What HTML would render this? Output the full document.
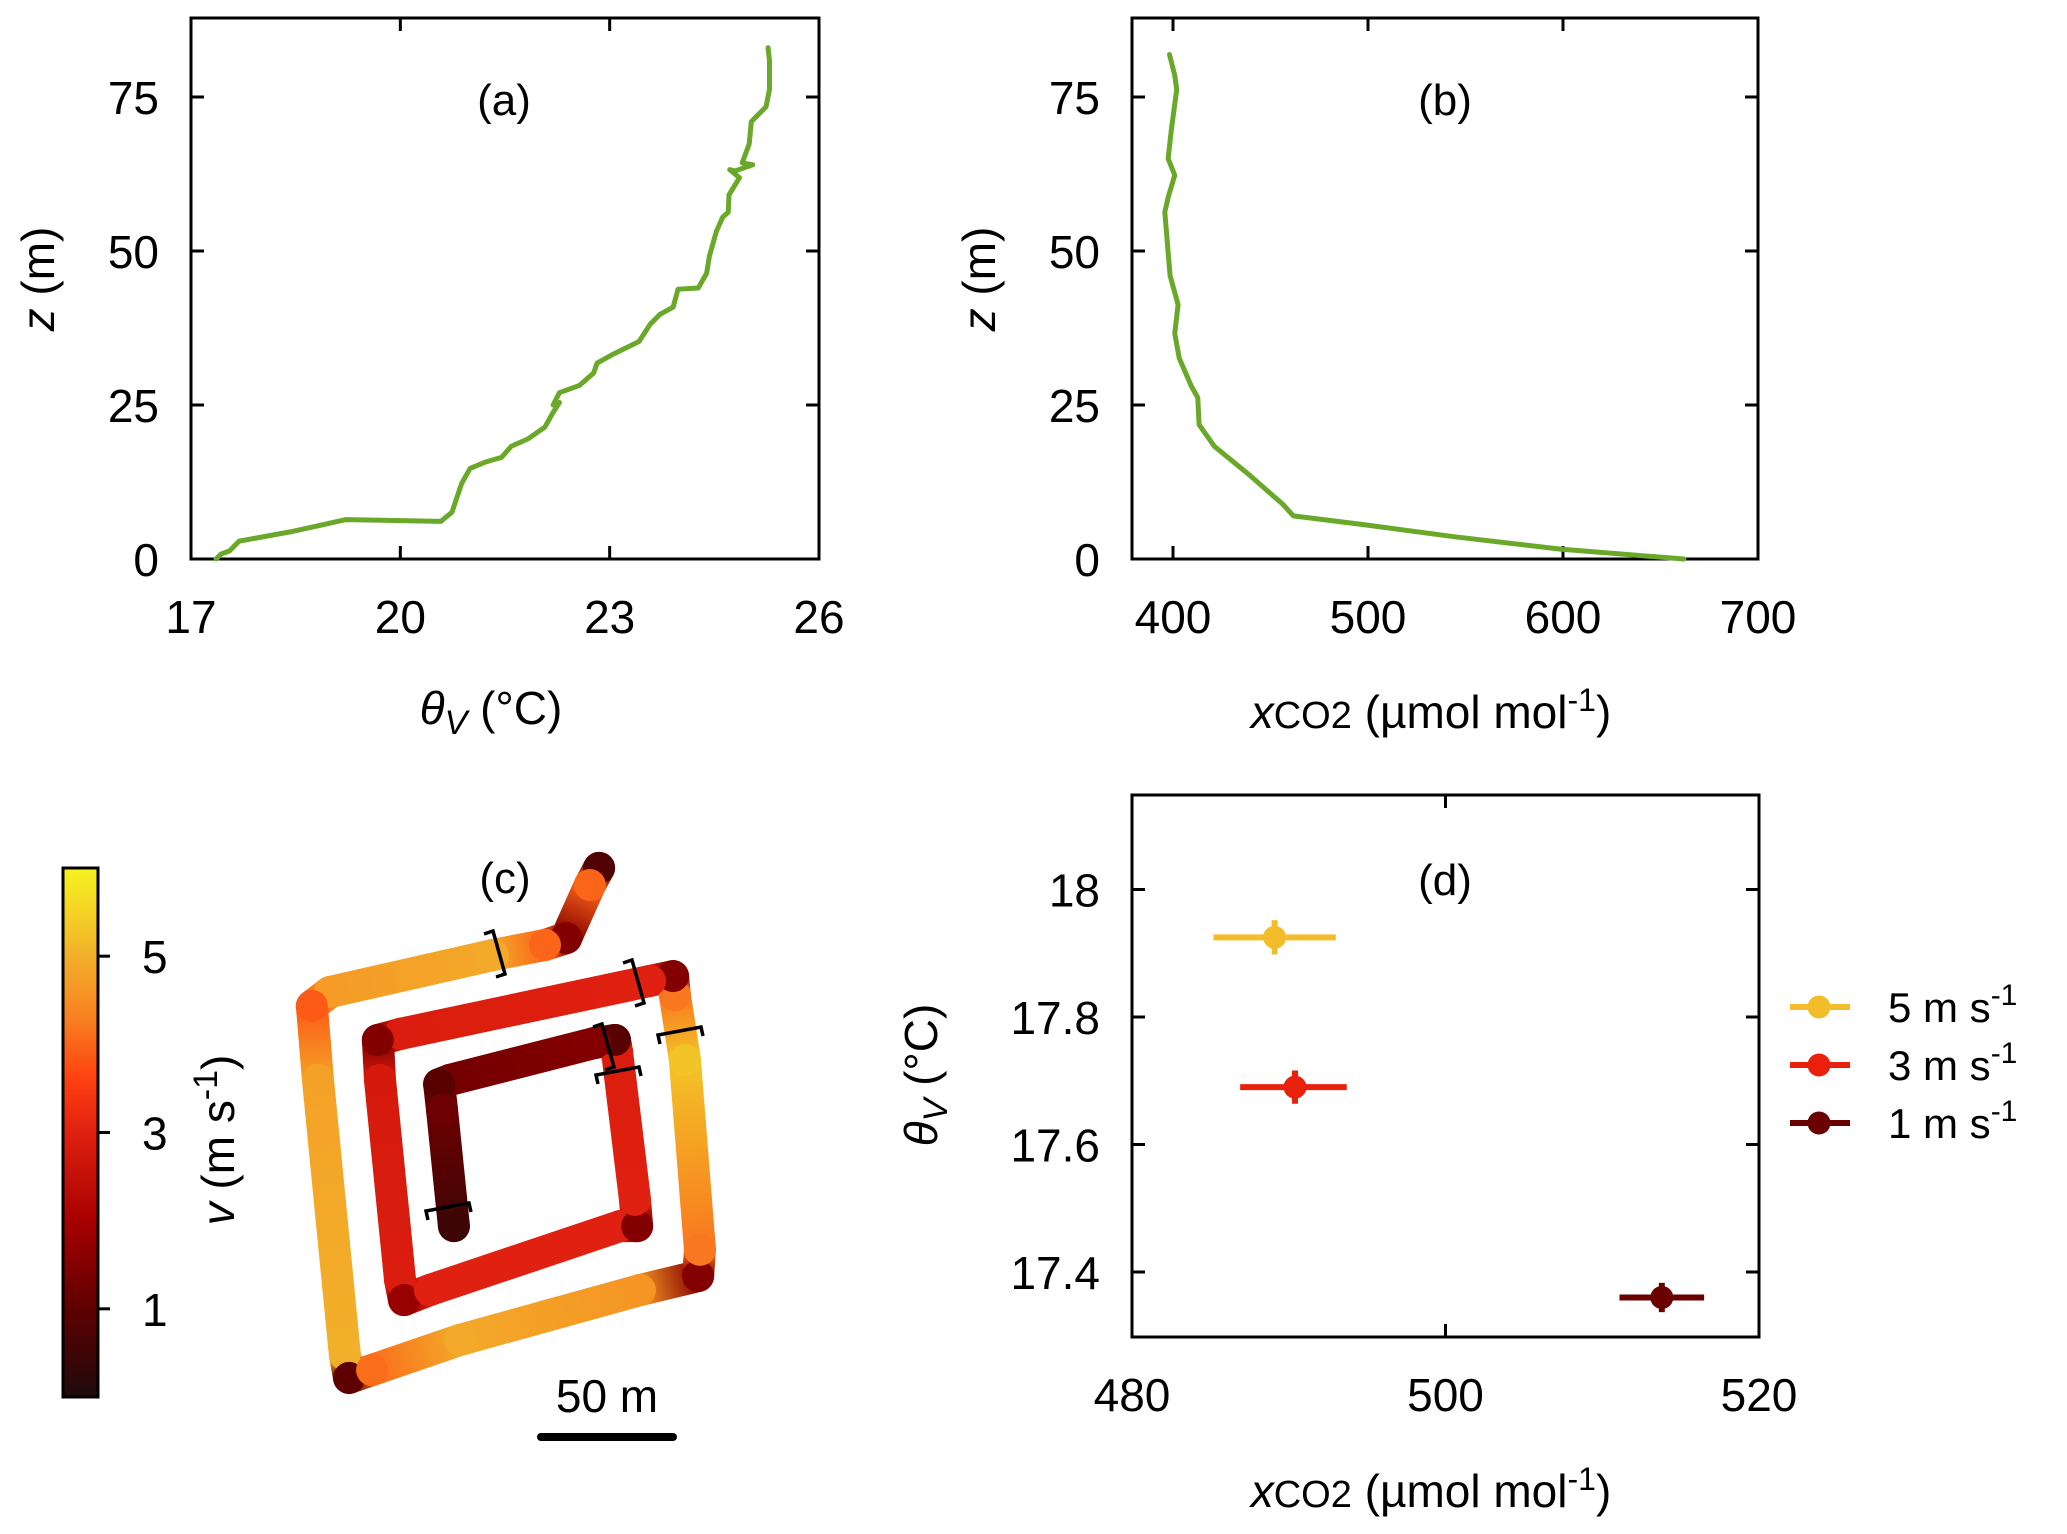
<!DOCTYPE html>
<html><head><meta charset="utf-8"><style>
html,body{margin:0;padding:0;background:#fff}
svg{display:block}
text{font-family:"Liberation Sans","DejaVu Sans",sans-serif;fill:#000}
</style></head><body>
<svg id="fig" width="2067" height="1534" viewBox="0 0 2067 1534" xmlns="http://www.w3.org/2000/svg">
<defs>
<linearGradient id="cbgrad" x1="0" y1="1" x2="0" y2="0"></linearGradient>
</defs>
<g id="pa"></g>
<g id="pb"></g>
<g id="pc"></g>
<g id="pd"></g>
</svg>
<script>
// ---- Panel (a) data: theta_v (°C) vs z (m)
const aTheta = [17.36,17.43,17.55,17.69,18.42,18.9,19.22,20.58,20.74,20.88,21.0,21.21,21.45,21.59,21.83,22.07,22.19,22.28,22.19,22.28,22.57,22.77,22.82,23.06,23.42,23.58,23.72,23.91,23.98,24.27,24.39,24.43,24.53,24.62,24.7,24.71,24.86,24.72,24.8,25.05,24.9,25.0,25.03,25.24,25.29,25.29,25.27];
const aZ = [0,0.8,1.3,2.9,4.4,5.6,6.4,6.1,7.6,12.3,14.7,15.7,16.5,18.3,19.5,21.4,23.8,25.4,25.0,27,28.2,30.2,31.8,33.3,35.3,38.1,39.7,40.9,43.8,44,46.4,49.2,53.2,55.5,56.3,59.1,61.9,63.2,63.0,64.0,64.3,67.4,71,73.4,76.2,81,83];
const aXTicks = [17,20,23,26];
const zTicks = [0,25,50,75];
// ---- Panel (b) data: xCO2 vs z
const bCO2 = [662,598.7,544.6,497.2,461.7,456.6,439.7,421.2,413.4,412.7,409.2,403.2,400.9,402.6,398.5,395.8,397.5,400.9,397.5,399.2,401.9,400.9,398.2];
const bZ = [0,1.6,3.6,5.6,7,8.8,13.5,18.3,21.8,26.2,28.2,32.6,36.6,41.3,46,56.3,58.7,62.3,65,69.8,76.2,78.5,81.9];
const bXTicks = [400,500,600,700];
// ---- Panel (c) data: flight path (m) and speed (m/s)
const cX = [113.3,109.8,100.8,92.8,73.1,11.4,4.5,6.8,17.0,18.6,27.3,60.6,128.8,150.8,151.5,145.8,142.0,141.3,132.6,37.9,29.5,30.3,37.9,39.4,49.2,121.2,127.7,126.9,120.1,119.3,111.7,56.8,52.7,53.8,58.3];
const cY = [220.5,214.0,193.9,191.3,187.5,173.5,168.2,140.2,36.0,27.3,30.3,41.7,60.6,65.9,75.8,147.7,172.3,179.5,177.7,157.6,155.3,140.2,64.4,56.8,60.6,84.8,84.8,94.7,150.8,155.3,154.2,140.2,138.6,128.8,84.8];
const cSpeed = [0.8,4.0,1.5,4.0,4.9,4.7,3.9,4.8,5.0,1.0,4.1,4.9,4.6,1.5,4.2,5.3,4.2,1.5,3.0,2.9,1.5,2.8,2.9,1.8,3.0,3.0,1.5,3.0,2.9,0.9,1.5,1.3,0.9,1.2,0.5];
const cbTicks = [1,3,5];
// ---- Panel (d) data
const dLabels = ['5 m s','3 m s','1 m s'];
const dCO2 = [489.1,490.4,513.8];
const dCO2Lo = [485.2,486.9,511.1];
const dCO2Hi = [493.0,493.7,516.5];
const dTheta = [17.925,17.69,17.36];
const dThetaErr = [0.027,0.026,0.023];
const dColors = ['#f2bc2a','#e8200c','#6a0000'];
const dXTicks = [480,500,520];
const dYTicks = [17.4,17.6,17.8,18];

const NS='http://www.w3.org/2000/svg';
function mk(parent,tag,attrs,txt){const e=document.createElementNS(NS,tag);for(const k in attrs)e.setAttribute(k,attrs[k]);if(txt!==undefined)e.textContent=txt;parent.appendChild(e);return e;}
function lin(d0,d1,p0,p1){return v=>p0+(v-d0)/(d1-d0)*(p1-p0);}

function frame(g,L,R,T,B,xs,xt,ys,yt,fmtY){
  const r=mk(g,'rect',{x:L,y:T,width:R-L,height:B-T,fill:'none',stroke:'#000','stroke-width':3});
  
  
  xt.forEach(v=>{const x=xs(v);
    const t1=mk(g,'line',{x1:x,y1:B,x2:x,y2:B-13,stroke:'#000','stroke-width':3});
    
    
    mk(g,'line',{x1:x,y1:T,x2:x,y2:T+13,stroke:'#000','stroke-width':3});
    const tl=mk(g,'text',{x:x,y:B+74,'font-size':46,'text-anchor':'middle'},String(v));
    
    
  });
  yt.forEach(v=>{const y=ys(v);
    const t1=mk(g,'line',{x1:L,y1:y,x2:L+13,y2:y,stroke:'#000','stroke-width':3});
    
    
    mk(g,'line',{x1:R,y1:y,x2:R-13,y2:y,stroke:'#000','stroke-width':3});
    const tl=mk(g,'text',{x:L-32,y:y+17,'font-size':46,'text-anchor':'end'},fmtY?fmtY(v):String(v));
    
    
  });
}
function ztitle(g,x,y){
  const t=mk(g,'text',{x:0,y:0,'font-size':46,'text-anchor':'middle',transform:`translate(${x},${y}) rotate(-90)`});
  
  
  mk(t,'tspan',{'font-style':'italic'},'z');mk(t,'tspan',{},' (m)');
}
function co2title(g,x,y){
  const t=mk(g,'text',{x:x,y:y,'font-size':46,'text-anchor':'middle'});
  
  
  mk(t,'tspan',{'font-style':'italic'},'x');mk(t,'tspan',{'font-size':38},'CO2');
  mk(t,'tspan',{},' (µmol mol');mk(t,'tspan',{'font-size':32,dy:-17},'-1');mk(t,'tspan',{dy:17},')');
}
function plabel(g,x,y,s){const t=mk(g,'text',{x:x,y:y,'font-size':44,'text-anchor':'middle'},s);
  
  }

// Panel a
(function(){
  const g=document.getElementById('pa');
  const L=191,R=819,T=18,B=559;
  const xs=lin(17,26,L,R), ys=lin(0,25,B,405);
  frame(g,L,R,T,B,xs,aXTicks,ys,zTicks);
  const p=mk(g,'polyline',{points:aTheta.map((v,i)=>xs(v)+','+ys(aZ[i])).join(' '),fill:'none',stroke:'#6aa82a','stroke-width':5,'stroke-linejoin':'round','stroke-linecap':'round'});
  
  
  plabel(g,504,115,'(a)');
  ztitle(g,54,279);
  const t=mk(g,'text',{x:491,y:724,'font-size':46,'text-anchor':'middle'});
  
  
  mk(t,'tspan',{'font-style':'italic'},'θ');mk(t,'tspan',{'font-style':'italic','font-size':34,dy:10},'V');mk(t,'tspan',{dy:-10},' (°C)');
})();
// Panel b
(function(){
  const g=document.getElementById('pb');
  const L=1132,R=1758,T=18,B=559;
  const xs=lin(400,700,1173,1758), ys=lin(0,25,B,405);
  frame(g,L,R,T,B,xs,bXTicks,ys,zTicks);
  const p=mk(g,'polyline',{points:bCO2.map((v,i)=>xs(v)+','+ys(bZ[i])).join(' '),fill:'none',stroke:'#6aa82a','stroke-width':5,'stroke-linejoin':'round','stroke-linecap':'round'});
  
  
  plabel(g,1445,115,'(b)');
  ztitle(g,995,279);
  co2title(g,1431,728);
})();
// colormap
const cmapStops=[[0,'#1e0a0a'],[1,'#5e0000'],[2,'#a80000'],[3,'#e02010'],[3.6,'#ff4010'],[4.3,'#f88020'],[5,'#f2b02a'],[6,'#f6f420']];
function hex(c){return [1,3,5].map(i=>parseInt(c.substr(i,2),16));}
function cmap(v){
  if(v<=0)return cmapStops[0][1]; if(v>=6)return cmapStops[cmapStops.length-1][1];
  for(let i=0;i<cmapStops.length-1;i++){const a=cmapStops[i],b=cmapStops[i+1];
    if(v>=a[0]&&v<=b[0]){const t=(v-a[0])/(b[0]-a[0]);const ca=hex(a[1]),cb=hex(b[1]);
      return 'rgb('+ca.map((c,k)=>Math.round(c+(cb[k]-c)*t)).join(',')+')';}}
}
// Panel c
(function(){
  const g=document.getElementById('pc');
  const svg=document.getElementById('fig');
  const grad=document.getElementById('cbgrad');
  cmapStops.forEach(s=>mk(grad,'stop',{offset:(s[0]/6),'stop-color':s[1]}));
  const cbT=868,cbB=1397,cbL=63,cbR=98;
  const cb=mk(g,'rect',{x:cbL,y:cbT,width:cbR-cbL,height:cbB-cbT,fill:'url(#cbgrad)',stroke:'#000','stroke-width':3});
  
  
  const cs=lin(0,6,cbB,cbT);
  cbTicks.forEach(v=>{
    mk(g,'line',{x1:cbR,y1:cs(v),x2:cbR+12,y2:cs(v),stroke:'#000','stroke-width':3});
    const t=mk(g,'text',{x:142,y:cs(v)+17,'font-size':46},String(v));
    
    
  });
  const ct=mk(g,'text',{x:0,y:0,'font-size':46,'text-anchor':'middle',transform:'translate(234,1140) rotate(-90)'});
  
  
  mk(ct,'tspan',{'font-style':'italic'},'v');mk(ct,'tspan',{},' (m s');mk(ct,'tspan',{'font-size':34,dy:-17},'-1');mk(ct,'tspan',{dy:17},')');
  const X=m=>300+m*2.64, Y=m=>1450-m*2.64;
  const defs=svg.querySelector('defs');
  for(let i=0;i<cX.length-1;i++){
    const x1=X(cX[i]),y1=Y(cY[i]),x2=X(cX[i+1]),y2=Y(cY[i+1]);
    const gr=mk(defs,'linearGradient',{id:'sg'+i,gradientUnits:'userSpaceOnUse',x1:x1,y1:y1,x2:x2,y2:y2});
    mk(gr,'stop',{offset:0,'stop-color':cmap(cSpeed[i])});
    mk(gr,'stop',{offset:1,'stop-color':cmap(cSpeed[i+1])});
    const l=mk(g,'line',{x1:x1,y1:y1,x2:x2,y2:y2,stroke:'url(#sg'+i+')','stroke-width':32,'stroke-linecap':'round'});
    
    
  }
  cX.forEach((v,i)=>{
    const c=mk(g,'circle',{cx:X(v),cy:Y(cY[i]),r:16,fill:cmap(cSpeed[i])});
    
    
  });
  const br=[['M484,934 l9,-3 l12,43 l-9,3'],['M623,963 l9,-3 l12,43 l-9,3'],['M660,1044 l-2,-9 l43,-8 l2,9'],['M593,1027 l9,-3 l12,43 l-9,3'],['M598,1084 l-2,-9 l43,-8 l2,9'],['M428,1220 l-2,-9 l43,-8 l2,9']];
  br.forEach(b=>{const p=mk(g,'path',{d:b[0],fill:'none',stroke:'#000','stroke-width':3.5});
    
    });
  const sb=mk(g,'line',{x1:541,y1:1437,x2:673,y2:1437,stroke:'#000','stroke-width':8,'stroke-linecap':'round'});
  
  
  const st=mk(g,'text',{x:607,y:1412,'font-size':46,'text-anchor':'middle'},'50 m');
  
  
  plabel(g,505,893,'(c)');
})();
// Panel d
(function(){
  const g=document.getElementById('pd');
  const L=1132,R=1759,T=795,B=1337;
  const xs=lin(480,520,L,R), ys=lin(17.4,18,1272,889.5);
  frame(g,L,R,T,B,xs,dXTicks,ys,dYTicks,v=>String(+v.toFixed(1)));
  dCO2.forEach((v,i)=>{
    const h=mk(g,'line',{x1:xs(dCO2Lo[i]),y1:ys(dTheta[i]),x2:xs(dCO2Hi[i]),y2:ys(dTheta[i]),stroke:dColors[i],'stroke-width':6});
    
    
    const vv=mk(g,'line',{x1:xs(v),y1:ys(dTheta[i]-dThetaErr[i]),x2:xs(v),y2:ys(dTheta[i]+dThetaErr[i]),stroke:dColors[i],'stroke-width':6});
    
    
    const c=mk(g,'circle',{cx:xs(v),cy:ys(dTheta[i]),r:11.5,fill:dColors[i]});
    
    
    const ly=1007+i*58;
    const lg=mk(g,'g',{});
    
    
    mk(lg,'line',{x1:1790,y1:ly,x2:1850,y2:ly,stroke:dColors[i],'stroke-width':6});
    mk(lg,'circle',{cx:1819,cy:ly,r:11.5,fill:dColors[i]});
    const t=mk(lg,'text',{x:1888,y:ly+15,'font-size':42},dLabels[i]);
    mk(t,'tspan',{'font-size':30,dy:-17},'-1');
  });
  plabel(g,1445,895,'(d)');
  const t=mk(g,'text',{x:0,y:0,'font-size':46,'text-anchor':'middle',transform:'translate(937,1075) rotate(-90)'});
  
  
  mk(t,'tspan',{'font-style':'italic'},'θ');mk(t,'tspan',{'font-style':'italic','font-size':34,dy:10},'V');mk(t,'tspan',{dy:-10},' (°C)');
  co2title(g,1431,1507);
})();
</script>
</body></html>
